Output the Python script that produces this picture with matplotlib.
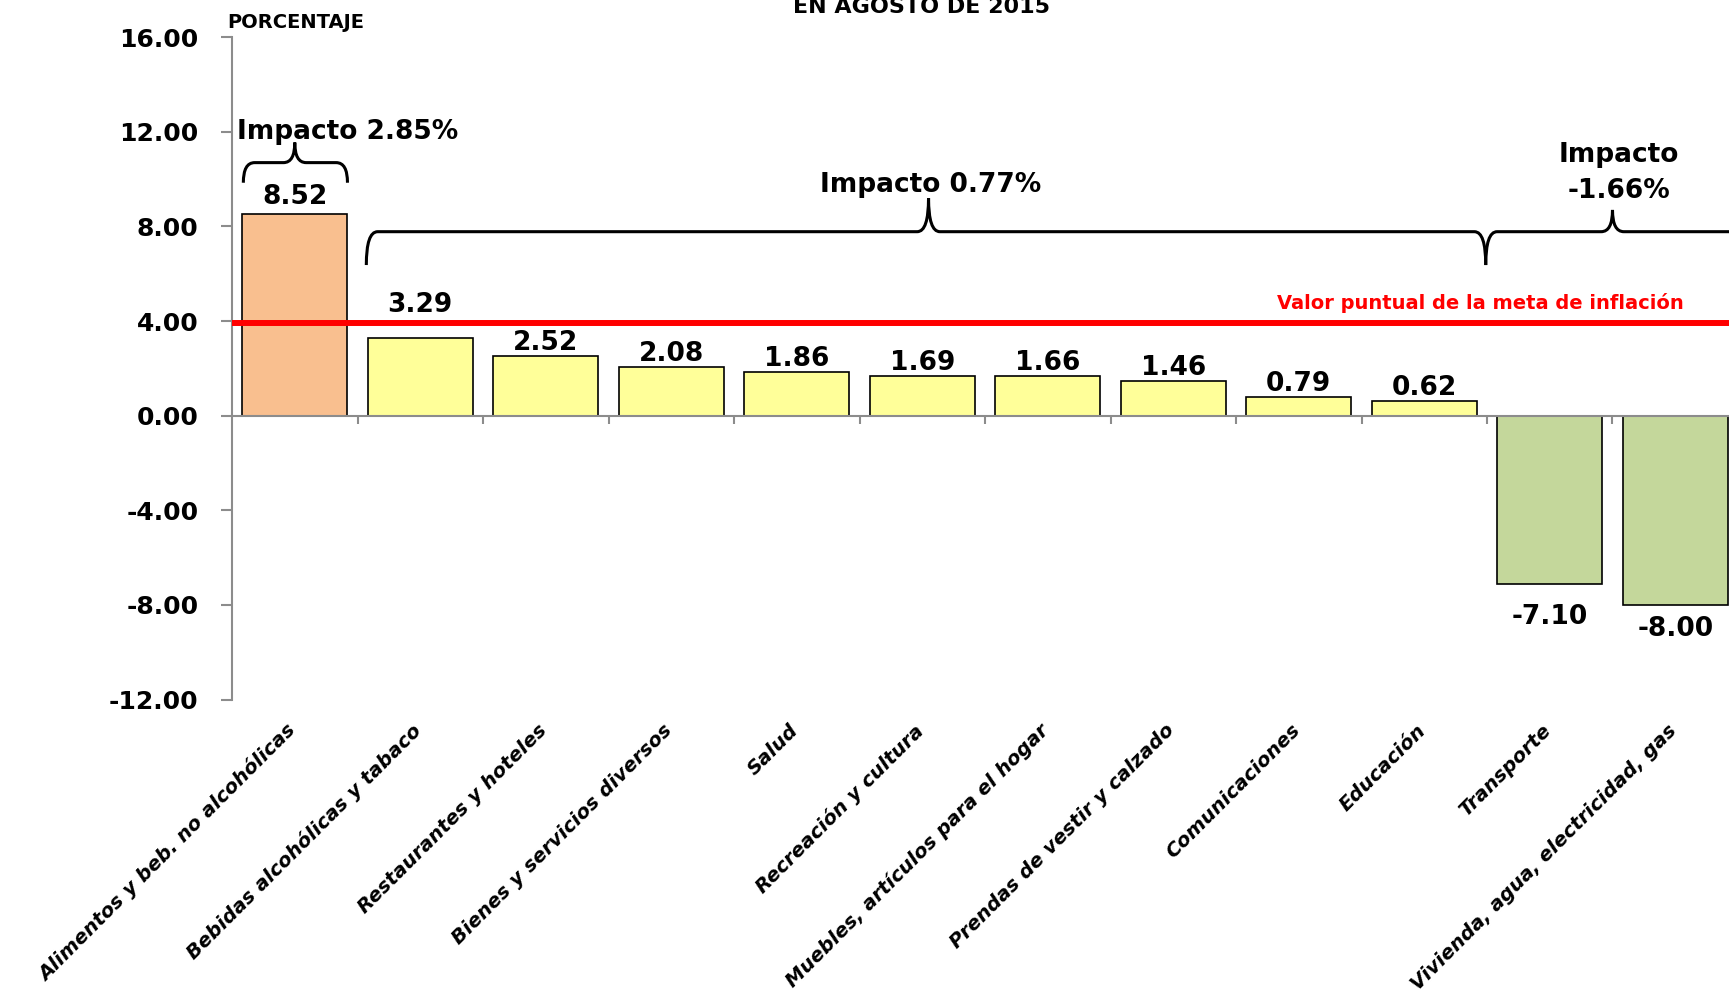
import matplotlib.pyplot as plt
from matplotlib.path import Path
from matplotlib.patches import PathPatch
from matplotlib.ticker import FixedLocator, FormatStrFormatter

plt.rcParams['font.family'] = ['DejaVu Sans']
plt.rcParams['axes.unicode_minus'] = False

categories = [
    'Alimentos y beb. no alcohólicas',
    'Bebidas alcohólicas y tabaco',
    'Restaurantes y hoteles',
    'Bienes y servicios diversos',
    'Salud',
    'Recreación y cultura',
    'Muebles, artículos para el hogar',
    'Prendas de vestir y calzado',
    'Comunicaciones',
    'Educación',
    'Transporte',
    'Vivienda, agua, electricidad, gas',
]
values = [8.52, 3.29, 2.52, 2.08, 1.86, 1.69, 1.66, 1.46, 0.79, 0.62, -7.10, -8.00]
groups = ['alta', 'media', 'media', 'media', 'media', 'media', 'media', 'media',
          'media', 'media', 'baja', 'baja']
impactos = ['Impacto 2.85%', 'Impacto 0.77%', 'Impacto\n-1.66%']
meta_inflacion = 3.93

colors = {'alta': '#F9BF8F', 'media': '#FFFF99', 'baja': '#C4D79B'}
axis_gray = '#8C8C8C'

fig = plt.figure(figsize=(17.29, 9.91), dpi=100)
ax = fig.add_axes([0.1342, 0.2941, 0.8710, 0.6683])

x = list(range(len(categories)))
ax.bar(x, values, width=0.84, color=[colors[g] for g in groups],
       edgecolor='black', linewidth=1.2, zorder=2)

ax.set_xlim(-0.5, len(categories) - 0.5)
ax.set_ylim(-12, 16)

# axes: y axis on the left, category axis along zero
for side in ['top', 'right']:
    ax.spines[side].set_visible(False)
ax.spines['left'].set_color(axis_gray)
ax.spines['left'].set_linewidth(1.5)
ax.spines['bottom'].set_position(('data', 0))
ax.spines['bottom'].set_color(axis_gray)
ax.spines['bottom'].set_linewidth(1.5)

ax.yaxis.set_major_locator(FixedLocator(range(-12, 17, 4)))
ax.yaxis.set_major_formatter(FormatStrFormatter('%.2f'))
ax.tick_params(axis='y', direction='out', length=8, width=1.5, color=axis_gray,
               pad=16, labelsize=18)
for lbl in ax.get_yticklabels():
    lbl.set_fontweight('bold')

ax.set_xticks([i + 0.5 for i in x[:-1]])
ax.set_xticklabels([])
ax.tick_params(axis='x', direction='out', length=6, width=1.5, color=axis_gray)

# category names below the plot
trans = ax.get_xaxis_transform()
for i, name in enumerate(categories):
    ax.text(i + 0.04, -0.032, name, transform=trans, rotation=45,
            ha='right', va='top', fontsize=14.3, fontweight='bold',
            fontstyle='italic')

# inflation target line
ax.axhline(meta_inflacion, color='#FF0000', linewidth=4.3, zorder=3)
ax.text(9.45, meta_inflacion + 0.4, 'Valor puntual de la meta de inflación',
        color='#FF0000', fontsize=14, fontweight='bold', ha='center',
        va='bottom')

# value labels
label_offset = {0: 3, 1: 14, 10: 15}
for i, v in enumerate(values):
    if v >= 0:
        off = label_offset.get(i, 0)
        ax.annotate(f'{v:.2f}', (i, v), xytext=(0, off), textcoords='offset points',
                    ha='center', va='bottom', fontsize=19, fontweight='bold')
    else:
        off = label_offset.get(i, 8)
        ax.annotate(f'{v:.2f}', (i, v), xytext=(0, -off), textcoords='offset points',
                    ha='center', va='top', fontsize=19, fontweight='bold')


def brace(xa, xb, xt, yh, ye, ytip, r=0.09):
    verts = [
        (xa, ye), (xa, yh), (xa + r, yh),
        (xt - r, yh),
        (xt, yh), (xt, ytip),
        (xt, yh), (xt + r, yh),
        (xb - r, yh),
        (xb, yh), (xb, ye),
    ]
    codes = [
        Path.MOVETO, Path.CURVE3, Path.CURVE3,
        Path.LINETO,
        Path.CURVE3, Path.CURVE3,
        Path.CURVE3, Path.CURVE3,
        Path.LINETO,
        Path.CURVE3, Path.CURVE3,
    ]
    ax.add_patch(PathPatch(Path(verts, codes), fill=False, lw=2.2,
                           edgecolor='black', clip_on=False, zorder=4))


brace(-0.41, 0.42, 0.0, 10.70, 9.85, 11.55)
brace(0.57, 9.49, 5.05, 7.78, 6.37, 9.20)
brace(9.49, 12.6, 10.50, 7.78, 6.37, 8.70)

ax.text(0.42, 11.45, impactos[0], ha='center', va='bottom', fontsize=19,
        fontweight='bold')
ax.text(5.07, 9.22, impactos[1], ha='center', va='bottom', fontsize=19,
        fontweight='bold')
ax.text(10.55, 8.95, impactos[2], ha='center', va='bottom', fontsize=19,
        fontweight='bold', linespacing=1.5)

fig.text(0.1313, 0.977, 'PORCENTAJE', fontsize=14, fontweight='bold',
         ha='left', va='center')
fig.text(0.5327, 0.9869, 'EN AGOSTO DE 2015', fontsize=16, fontweight='bold',
         ha='center', va='baseline')

fig.savefig('out.png', dpi=100)
